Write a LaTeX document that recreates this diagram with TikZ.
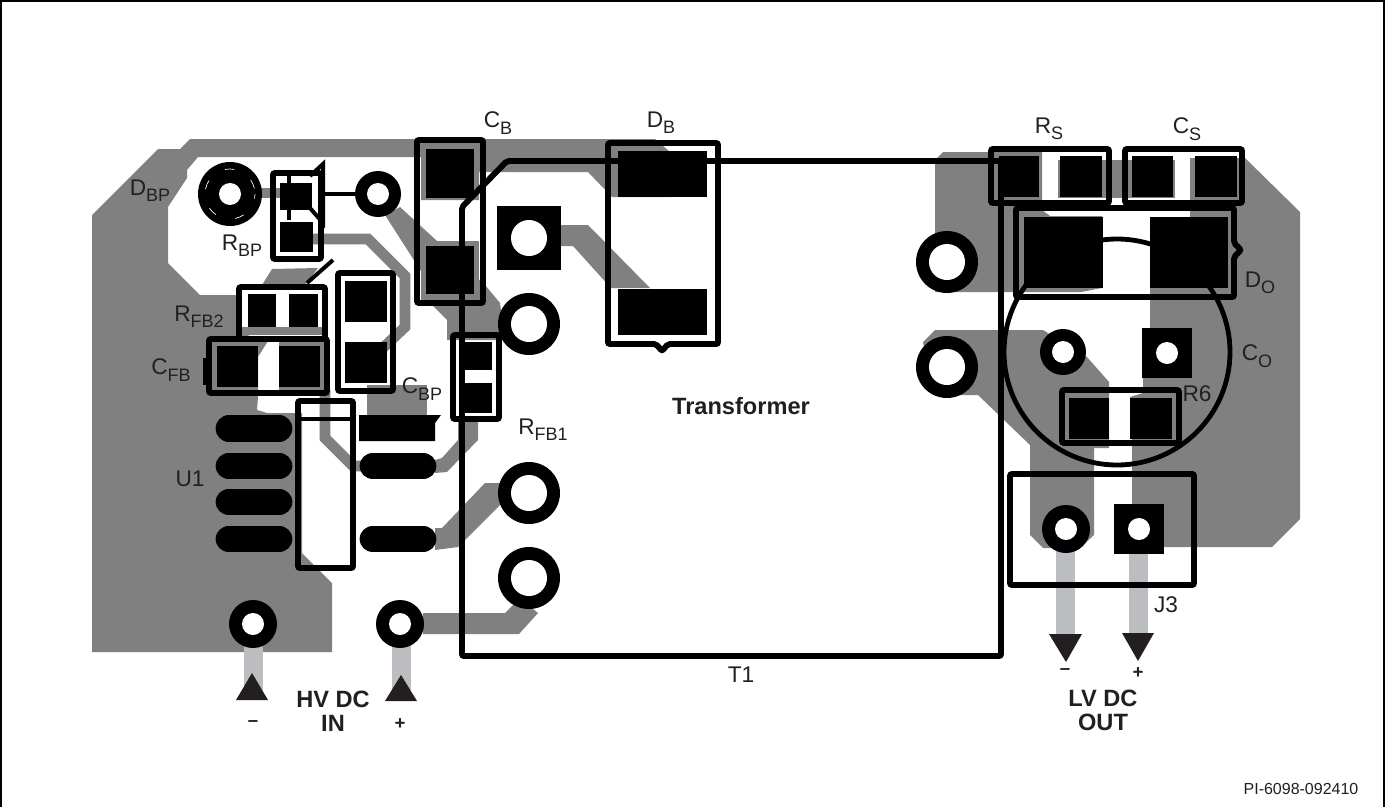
\documentclass[tikz,border=0pt]{standalone}
\usepackage{fontspec}
\setmainfont{Liberation Sans}
\definecolor{coppergrey}{HTML}{808080}
\definecolor{leadgrey}{HTML}{BBBDC0}
\definecolor{inkblack}{HTML}{231F20}
\newcommand{\subtxt}[1]{\raisebox{-.28em}{\fontsize{13.5}{13.5}\selectfont #1}}
\tikzset{
  copper/.style={fill=coppergrey},
  trace/.style={draw=coppergrey, line width=8pt},
  padblock/.style={fill=black},
  pill/.style={draw=black, line width=20pt, line cap=round},
  outline/.style={draw=black, line width=4.4pt, rounded corners=1.5pt},
  thinline/.style={draw=black, line width=3pt},
  partlabel/.style={text=inkblack, inner sep=0pt, font=\fontsize{17}{20}\selectfont},
  boldlabel/.style={text=inkblack, inner sep=0pt, align=center, font=\bfseries\fontsize{17.7}{18}\selectfont},
  signlabel/.style={text=inkblack, inner sep=0pt, font=\bfseries\fontsize{14}{16}\selectfont}
}
\begin{document}
\begin{tikzpicture}[x=0.75pt, y=-0.75pt]

\useasboundingbox (0,0) rectangle (1385,807);
\draw[line width=1.5pt] (1,807) -- (1,1) -- (1383.5,1) -- (1383.5,807);

% copper, left side
\fill[copper] (190,139) -- (655,139) -- (670,152) -- (670,197) -- (612,197) -- (588,172)
  -- (479,172) -- (479,200) -- (421,200) -- (421,157) -- (198,157) -- (187,170) -- (187,178)
  -- (168,207) -- (168,263) -- (200,295) -- (240,295) -- (240,333) -- (268,341) -- (258,357)
  -- (258,397) -- (257,410) -- (267,413) -- (302,413) -- (302,553) -- (332,583) -- (332,652)
  -- (92,652) -- (92,215) -- (158,149) -- (180,149) -- cycle;
\fill[copper] (240,327) rectangle (325,335);
\fill[copper] (262,285) -- (272,269) -- (318,268) -- (305,285) -- cycle;
\fill[copper] (279,342) -- (324,342) -- (324,384) -- (330,392) -- (279,392) -- cycle;
\fill[copper] (230,188) rectangle (285,198);
\draw[trace] (293,239) -- (368,239) -- (405,276) -- (405,327) -- (367,363);
\fill[copper] (367,385) rectangle (427,416);
\draw[trace] (325,390) -- (325,438) -- (353,466) -- (372,466);
\fill[copper] (435,460) -- (442,458) -- (458,440) -- (458,420) -- (478,420) -- (478,440)
  -- (447,472) -- (435,473) -- cycle;
\fill[copper] (435,528) -- (442,528) -- (485,483) -- (505,483) -- (505,505) -- (500,505)
  -- (458,547) -- (435,550) -- cycle;
\fill[copper] (421,241) rectangle (479,300);
\fill[copper] (400,207) -- (485,285) -- (500,303) -- (505,340) -- (447,340) -- (447,320)
  -- (433,306) -- (433,290) -- (385,215) -- cycle;
\fill[copper] (423,613) -- (505,613) -- (520,598) -- (538,613) -- (519,634) -- (423,634) -- cycle;
\fill[copper] (555,225) -- (588,225) -- (650,288) -- (611,288) -- (573,246) -- (555,246) -- cycle;

% copper, right side
\fill[copper] (935,160) -- (943,152) -- (1042,152) -- (1042,210) -- (1050,216) -- (1102,216)
  -- (1102,288) -- (1081,292) -- (935,292) -- cycle;
\fill[copper] (1058,160) rectangle (1175,198);
\fill[copper] (1190,158) -- (1245,158) -- (1300,212) -- (1300,519) -- (1272,547) -- (1132,547)
  -- (1132,448) -- (1130,397) -- (1143,393) -- (1143,377) -- (1150,327) -- (1150,217) -- (1190,217)
  -- cycle;
\fill[copper] (933,395) -- (923,342) -- (935,330) -- (1043,330) -- (1087,357) -- (1109,382)
  -- (1109,448) -- (1094,448) -- (1094,535) -- (1080,548) -- (1043,548) -- (1030,535)
  -- (1030,445) -- (978,395) -- cycle;

% leads
\fill[leadgrey] (244,640) rectangle (263,690);
\fill[leadgrey] (392,640) rectangle (411,690);
\fill[leadgrey] (1056,545) rectangle (1075,636);
\fill[leadgrey] (1129,550) rectangle (1148,636);
\fill[inkblack] (236,700) -- (268,700) -- (252,673) -- cycle;
\fill[inkblack] (385,701) -- (417,701) -- (401,675) -- cycle;
\fill[inkblack] (1049,634) -- (1082,634) -- (1066,662) -- cycle;
\fill[inkblack] (1122,633) -- (1154,633) -- (1138,661) -- cycle;

% pads
\foreach \xa/\ya/\xb/\yb in {426/149/474/198, 426/246/474/294, 280/222/313/252, 280/183/312/210,
  248/294/276/327, 289/294/318/327, 217/346/258/387, 279/346/320/387,
  345/281/387/322, 345/342/387/383, 465/342/492/370, 465/383/492/413,
  618/151/707/197, 618/289/707/335, 999/156/1039/197, 1060/156/1102/197,
  1132/156/1173/197, 1195/156/1237/197, 1024/217/1103/288, 1150/217/1228/288,
  1069/398/1109/439, 1130/398/1172/439}
{
  \fill[padblock] (\xa,\ya) rectangle (\xb,\yb);
}
\fill[padblock] (359,415) -- (441,415) -- (435,423) -- (435,441) -- (359,441) -- cycle;
\foreach \ya in {428.5,466,502,539}
  \draw[pill] (229,\ya) -- (279,\ya);
\foreach \ya in {466,539}
  \draw[pill] (373,\ya) -- (423,\ya);

% body outline of the capacitor
\draw[line width=3.6pt] (1117,352) circle (113);

% square pads with holes
\foreach \xc/\yc/\half/\hole in {529/238/32/18, 1167/353/25/11, 1139/529/25/11}
{
  \fill[padblock] ({\xc-\half},{\yc-\half}) rectangle ({\xc+\half},{\yc+\half});
  \fill[white] (\xc,\yc) circle (\hole);
}
% round pads with holes
\foreach \xc/\yc/\rim/\hole in {378/194/23/11, 529/324/31/18, 529/493/31/18, 529/578/31/18,
  947/262/31/18, 947/367/31/18, 1063/352/23/11, 1066/529/24/11, 253/624/24/11, 400/624/24/11,
  230/194/32/11}
{
  \fill[black] (\xc,\yc) circle (\rim);
  \fill[white] (\xc,\yc) circle (\hole);
}
\draw[white, line width=.5pt, dash pattern=on 7pt off 15pt, dash phase=3.5pt] (230,194) circle (25);

% part outlines
\draw[outline] (417,140) rectangle (483,303);
\draw[outline] (273,173) rectangle (321,259);
\draw[outline] (239,287) rectangle (325,339);
\draw[outline] (209,339) rectangle (327,393);
\draw[outline] (338,273) rectangle (393,391);
\draw[outline] (453,335) rectangle (499,419);
\draw[outline] (298,401) rectangle (353,568);
\draw[outline] (991,149) rectangle (1109,203);
\draw[outline] (1125,149) rectangle (1242,203);
\draw[outline] (1062,390) rectangle (1179,443);
\draw[outline] (1010,474) rectangle (1194,585);
\draw[outline] (608,143) -- (718,143) -- (718,344) -- (668,344) -- (662,351) -- (656,344)
  -- (608,344) -- cycle;
\draw[outline] (1016,208) -- (1234,208) -- (1234,243) -- (1241,250) -- (1234,257)
  -- (1234,297) -- (1016,297) -- cycle;
\draw[outline] (507,161) -- (1001,161) -- (1001,656) -- (462,656) -- (462,207) -- cycle;

% small details
\draw[thinline] (298,419) -- (353,419);
\draw[thinline] (307,283) -- (333,260);
\draw[thinline] (324,194) -- (357,194);
\draw[thinline] (289,170) -- (289,220);
\draw[thinline] (310,176) -- (323,164) -- (323,223) -- (310,208);
\draw[line width=3pt] (205,358) -- (205,385);

% labels
\node[partlabel] (lblCB) at (498,123) {C\subtxt{B}};
\node[partlabel] (lblDB) at (661,123) {D\subtxt{B}};
\node[partlabel] (lblRS) at (1049,129) {R\subtxt{S}};
\node[partlabel] (lblCS) at (1187,129) {C\subtxt{S}};
\node[partlabel] (lblDBP) at (150,191) {D\subtxt{BP}};
\node[partlabel] (lblRBP) at (242,246) {R\subtxt{BP}};
\node[partlabel] (lblRFB2) at (199,317) {R\subtxt{FB2}};
\node[partlabel] (lblCFB) at (171,370) {C\subtxt{FB}};
\node[partlabel] (lblCBP) at (422,389) {C\subtxt{BP}};
\node[partlabel] (lblRFB1) at (543,430) {R\subtxt{FB1}};
\node[partlabel] (lblU1) at (190,479) {U1};
\node[partlabel] (lblDO) at (1260,283) {D\subtxt{O}};
\node[partlabel] (lblCO) at (1257,356) {C\subtxt{O}};
\node[partlabel] (lblR6) at (1197,394) {R6};
\node[partlabel] (lblJ3) at (1166,605) {J3};
\node[partlabel] (lblT1) at (741,675) {T1};
\node[boldlabel] (lblXfmr) at (741,406) {Transformer};
\node[boldlabel] (lblHV) at (333,711) {HV DC\\IN};
\node[boldlabel] (lblLV) at (1103,710) {LV DC\\OUT};
\node[signlabel] (lblHVneg) at (253,724) {\char"2013};
\node[signlabel] (lblHVpos) at (400,724) {+};
\node[signlabel] (lblLVneg) at (1065,672) {\char"2013};
\node[signlabel] (lblLVpos) at (1138,673) {+};
\node[partlabel, font=\fontsize{12}{14}\selectfont] (lblPI) at (1301,789) {PI-6098-092410};
\end{tikzpicture}
\end{document}
